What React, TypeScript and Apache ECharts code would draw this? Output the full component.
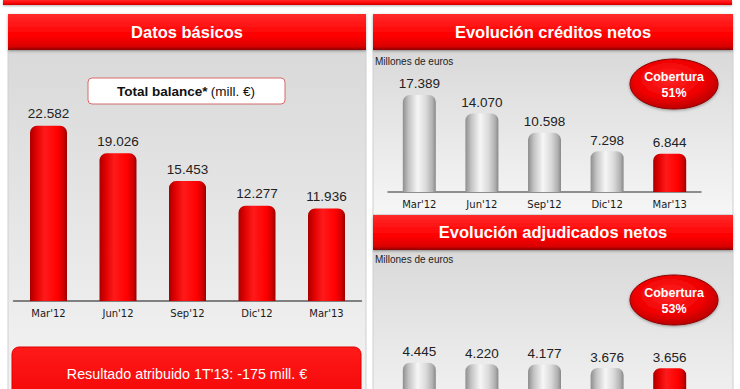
import React, { useEffect, useRef } from "react";
import * as echarts from "echarts";

const categories = ["Mar'12", "Jun'12", "Sep'12", "Dic'12", "Mar'13"];
const totalBalance = [22582, 19026, 15453, 12277, 11936];
const creditosNetos = [17389, 14070, 10598, 7298, 6844];
const adjudicadosNetos = [4445, 4220, 4177, 3676, 3656];
const coberturaCreditos = "51%";
const coberturaAdjudicados = "53%";
const resultadoText = "Resultado atribuido 1T'13: -175 mill. €";

const FONT = "'Liberation Sans', Arial, sans-serif";
const AXFONT = "'DejaVu Sans', Verdana, sans-serif";

const fmt = (v: number) => String(v).replace(/\B(?=(\d{3})+(?!\d))/g, ".");

const redBar = new echarts.graphic.LinearGradient(0, 0, 1, 0, [
  { offset: 0, color: "#a80000" },
  { offset: 0.15, color: "#dd0000" },
  { offset: 0.4, color: "#ff1a1a" },
  { offset: 0.75, color: "#ff0000" },
  { offset: 0.9, color: "#d20000" },
  { offset: 1, color: "#9a0000" },
]);
const silverBar = new echarts.graphic.LinearGradient(0, 0, 1, 0, [
  { offset: 0, color: "#8e8e8e" },
  { offset: 0.18, color: "#c4c4c4" },
  { offset: 0.45, color: "#f6f6f6" },
  { offset: 0.7, color: "#dadada" },
  { offset: 0.9, color: "#b0b0b0" },
  { offset: 1, color: "#888888" },
]);

const headerFill = () =>
  new echarts.graphic.LinearGradient(0, 0, 0, 1, [
    { offset: 0, color: "#ff2a2a" },
    { offset: 0.6, color: "#ff0000" },
    { offset: 0.9, color: "#d80000" },
    { offset: 1, color: "#8a0000" },
  ]);
const panelFill = () =>
  new echarts.graphic.LinearGradient(0, 0, 0, 1, [
    { offset: 0, color: "#d9d9d9" },
    { offset: 1, color: "#f6f6f6" },
  ]);
const ellipseFill = () =>
  new echarts.graphic.RadialGradient(0.45, 0.4, 0.65, [
    { offset: 0, color: "#ff2626" },
    { offset: 0.6, color: "#f00000" },
    { offset: 1, color: "#b00000" },
  ]);

export default function App() {
  const ref = useRef<HTMLDivElement>(null);
  useEffect(() => {
    if (!ref.current) return;
    const chart = echarts.init(ref.current, undefined, { renderer: "svg" });

    const label = (size: number, dist: number) => ({
      show: true,
      position: "top",
      distance: dist,
      color: "#222",
      fontFamily: FONT,
      fontSize: size,
      formatter: (p: any) => fmt(p.value),
    });

    const xAx = (gridIndex: number, color: string, width: number, showLabels = true) => ({
      type: "category",
      gridIndex,
      data: categories,
      axisTick: { show: false },
      axisLine: { lineStyle: { color, width } },
      axisLabel: { show: showLabels, color: "#1a1a1a", fontFamily: AXFONT, fontSize: 10, margin: 7 },
    });
    const yAx = (gridIndex: number, max: number) => ({
      type: "value",
      gridIndex,
      min: 0,
      max,
      show: false,
      splitLine: { show: false },
    });

    const withRedLast = (arr: number[]) =>
      arr.map((v, i) =>
        i === arr.length - 1 ? { value: v, itemStyle: { color: redBar } } : v
      );

    const ellipse = (cy: number, pct: string) => [
      {
        type: "ellipse",
        z: 50,
        shape: { cx: 674, cy, rx: 44, ry: 25 },
        style: {
          fill: ellipseFill(),
          stroke: "#8c0000",
          lineWidth: 1,
          shadowBlur: 3,
          shadowColor: "rgba(0,0,0,0.35)",
          shadowOffsetY: 1,
        },
      },
      {
        type: "text",
        z: 60,
        x: 674,
        y: cy + 1,
        style: {
          text: "Cobertura\n" + pct,
          fill: "#fff",
          font: `bold 12.5px ${FONT}`,
          align: "center",
          verticalAlign: "middle",
          lineHeight: 16,
        },
      },
    ];

    const headerText = (x: number, y: number, text: string) => ({
      type: "text",
      z: 10,
      x,
      y,
      style: { text, fill: "#fff", font: `bold 16.5px ${FONT}`, align: "center", verticalAlign: "middle" },
    });
    const headerRect = (x: number, y: number, w: number, h: number) => ({
      type: "rect",
      z: 5,
      shape: { x, y, width: w, height: h },
      style: { fill: headerFill(), shadowBlur: 3, shadowColor: "rgba(0,0,0,0.35)", shadowOffsetY: 1 },
    });
    const panel = (x: number, y: number, w: number, h: number) => ({
      type: "rect",
      z: 0,
      shape: { x, y, width: w, height: h },
      style: { fill: panelFill(), stroke: "#cfcfcf", lineWidth: 1 },
    });

    const graphic: any[] = [
      {
        type: "rect",
        z: 1,
        shape: { x: 3, y: 0, width: 729, height: 5 },
        style: { fill: headerFill(), shadowBlur: 2, shadowColor: "rgba(0,0,0,0.3)", shadowOffsetY: 1 },
      },
      panel(8, 50, 358, 380),
      panel(373, 50, 360, 165),
      panel(373, 250, 360, 180),
      headerRect(8, 14, 358, 36),
      headerRect(373, 14, 360, 36),
      headerRect(373, 215, 360, 35),
      headerText(187, 32, "Datos básicos"),
      headerText(553, 32, "Evolución créditos netos"),
      headerText(553, 232, "Evolución adjudicados netos"),
      {
        type: "rect",
        z: 10,
        shape: { x: 88, y: 78, width: 197, height: 26, r: 4 },
        style: { fill: "#fff", stroke: "#d86a6a", lineWidth: 1 },
      },
      {
        type: "text",
        z: 11,
        x: 186,
        y: 91,
        style: {
          text: "{b|Total balance*} {n|(mill. €)}",
          align: "center",
          verticalAlign: "middle",
          rich: {
            b: { fontFamily: FONT, fontWeight: "bold", fontSize: 13.5, fill: "#111", color: "#111" },
            n: { fontFamily: FONT, fontSize: 13.5, fill: "#111", color: "#111" },
          },
        },
      },
      {
        type: "text",
        z: 10,
        x: 375,
        y: 61,
        style: { text: "Millones de euros", fill: "#222", font: `10px ${FONT}`, align: "left", verticalAlign: "middle" },
      },
      {
        type: "text",
        z: 10,
        x: 375,
        y: 259,
        style: { text: "Millones de euros", fill: "#222", font: `10px ${FONT}`, align: "left", verticalAlign: "middle" },
      },
      ...ellipse(84, coberturaCreditos),
      ...ellipse(300, coberturaAdjudicados),
      {
        type: "rect",
        z: 10,
        shape: { x: 12, y: 347, width: 349, height: 70, r: 7 },
        style: {
          fill: new echarts.graphic.LinearGradient(0, 0, 0, 1, [
            { offset: 0, color: "#ff1a1a" },
            { offset: 1, color: "#f00000" },
          ]),
          stroke: "#e00000",
          lineWidth: 1,
        },
      },
      {
        type: "text",
        z: 11,
        x: 187,
        y: 374,
        style: { text: resultadoText, fill: "#fff", font: `14.3px ${FONT}`, align: "center", verticalAlign: "middle" },
      },
    ];

    chart.setOption({
      animation: false,
      backgroundColor: "#ffffff",
      graphic,
      grid: [
        { left: 13.75, width: 347.5, top: 107, height: 194 },
        { left: 388, width: 313, top: 80.4, height: 111.6 },
        { left: 388, width: 313, top: 359, height: 34 },
      ],
      xAxis: [xAx(0, "#808080", 2), xAx(1, "#6e6e6e", 1.5), xAx(2, "#6e6e6e", 1.5, false)],
      yAxis: [yAx(0, 25000), yAx(1, 20000), yAx(2, 5000)],
      series: [
        {
          type: "bar",
          xAxisIndex: 0,
          yAxisIndex: 0,
          data: totalBalance,
          barWidth: 37,
          z: 20,
          itemStyle: { color: redBar, borderRadius: [7, 7, 0, 0] },
          label: label(13.5, 5),
        },
        {
          type: "bar",
          xAxisIndex: 1,
          yAxisIndex: 1,
          data: withRedLast(creditosNetos),
          barWidth: 33,
          z: 20,
          itemStyle: { color: silverBar, borderRadius: [7, 7, 0, 0] },
          label: label(13.5, 4),
        },
        {
          type: "bar",
          xAxisIndex: 2,
          yAxisIndex: 2,
          data: withRedLast(adjudicadosNetos),
          barWidth: 33,
          z: 20,
          itemStyle: { color: silverBar, borderRadius: [7, 7, 0, 0] },
          label: label(13.5, 4),
        },
      ],
    });
    return () => chart.dispose();
  }, []);

  return (
    <div
      style={{
        position: "fixed",
        left: 0,
        top: 0,
        width: 740,
        height: 389,
        overflow: "hidden",
        background: "#fff",
      }}
    >
      <div ref={ref} style={{ width: 740, height: 430 }} />
    </div>
  );
}
